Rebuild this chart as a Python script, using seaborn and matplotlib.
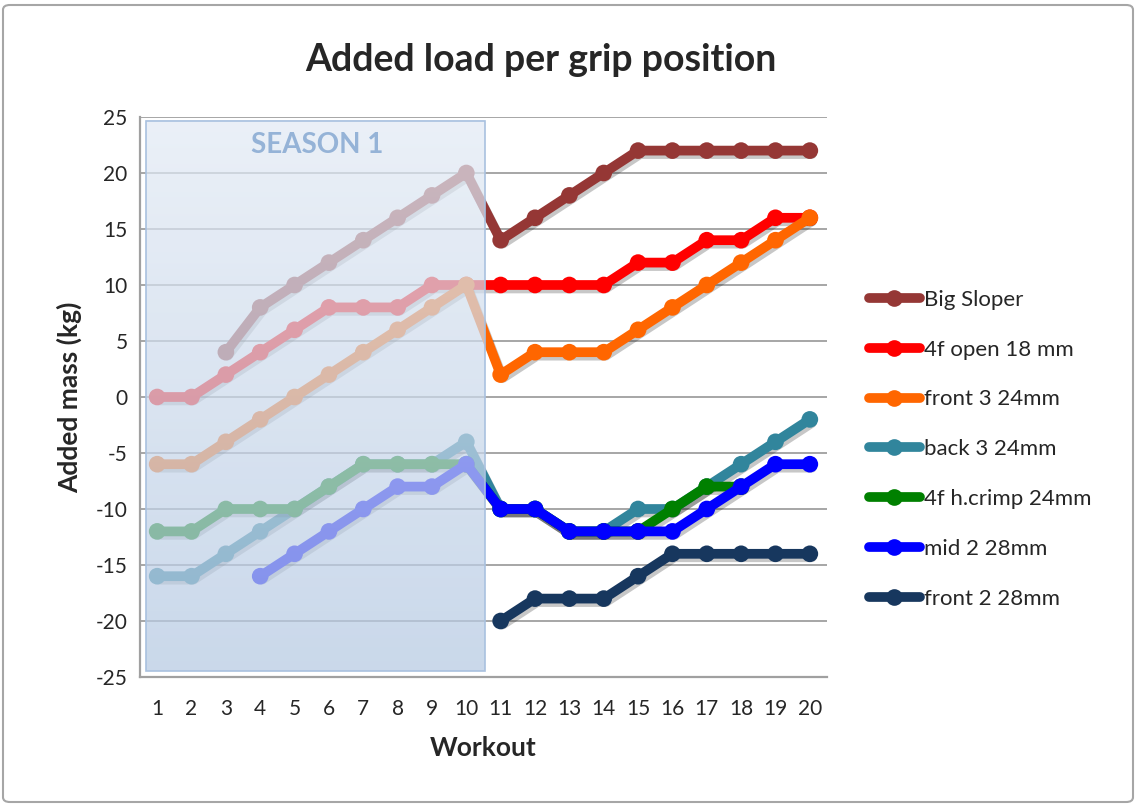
import numpy as np
import pandas as pd
import matplotlib
matplotlib.use("Agg")
import matplotlib.pyplot as plt
import matplotlib.patheffects as pe
from matplotlib.patches import FancyBboxPatch, Rectangle
from matplotlib.lines import Line2D
import seaborn as sns

nan = np.nan
workouts = list(range(1, 21))

# values, NaN where a grip was not trained
big_sloper = [nan, nan, 4, 8, 10, 12, 14, 16, 18, 20, 14, 16, 18, 20, 22, 22, 22, 22, 22, 22]
open_4f_18 = [0, 0, 2, 4, 6, 8, 8, 8, 10, 10, 10, 10, 10, 10, 12, 12, 14, 14, 16, 16]
front3_24 = [-6, -6, -4, -2, 0, 2, 4, 6, 8, 10, 2, 4, 4, 4, 6, 8, 10, 12, 14, 16]
back3_24 = [-16, -16, -14, -12, -10, -8, -6, -6, -6, -4, -10, -10, -12, -12, -10, -10, -8, -6, -4, -2]
hcrimp_4f_24 = [-12, -12, -10, -10, -10, -8, -6, -6, -6, -6, -10, -10, -12, -12, -12, -10, -8, -8, nan, nan]
mid2_28 = [nan, nan, nan, -16, -14, -12, -10, -8, -8, -6, -10, -10, -12, -12, -12, -12, -10, -8, -6, -6]
front2_28 = [nan] * 10 + [-20, -18, -18, -18, -16, -14, -14, -14, -14, -14]

series_names = ["Big Sloper", "4f open 18 mm", "front 3 24mm", "back 3 24mm",
                "4f h.crimp 24mm", "mid 2 28mm", "front 2 28mm"]
series_values = [big_sloper, open_4f_18, front3_24, back3_24, hcrimp_4f_24, mid2_28, front2_28]
colors = ["#953735", "#FF0000", "#FF6600", "#31859C", "#008000", "#0000FF", "#17375E"]

season_label = "SEASON 1"
season_span = (0.67, 10.53)

rows = []
for name, vals in zip(series_names, series_values):
    for w, v in zip(workouts, vals):
        rows.append({"Workout": w, "mass": v, "grip": name})
df = pd.DataFrame(rows).dropna()

sns.set_style("white")
plt.rcParams["font.family"] = ["Lato", "DejaVu Sans"]
plt.rcParams["axes.unicode_minus"] = False

fig = plt.figure(figsize=(11.37, 8.05), dpi=100)
ax = fig.add_axes([140 / 1137, 1 - 677 / 805, 687 / 1137, 560 / 805])

# soft drop shadow like the spreadsheet chart
shadow = [pe.SimpleLineShadow(offset=(1.5, -2.5), alpha=0.22, shadow_color="black"),
          pe.Normal()]

sns.lineplot(data=df, x="Workout", y="mass", hue="grip", hue_order=series_names,
             palette=colors, marker="o", markersize=12, markeredgewidth=0,
             linewidth=7, legend=False, ax=ax, zorder=3)
for ln in ax.lines:
    ln.set_path_effects(shadow)
    ln.set_solid_capstyle("round")

ax.set_xlim(0.5, 20.5)
ax.set_ylim(-25, 25)
ax.set_xticks(workouts)
ax.set_yticks(range(-25, 26, 5))
ax.grid(axis="y", color="#A6A6A6", linewidth=1.4, zorder=0)
ax.set_axisbelow(True)
for s in ["top", "right"]:
    ax.spines[s].set_visible(False)
for s in ["left", "bottom"]:
    ax.spines[s].set_color("#A0A0A0")
    ax.spines[s].set_linewidth(1.6)
ax.tick_params(axis="y", length=6, width=1.4, color="#A0A0A0", pad=3, labelsize=15)
ax.tick_params(axis="x", length=0, pad=16, labelsize=15)

ax.set_xlabel("Workout", fontsize=19, fontweight="bold", labelpad=12)
ax.set_ylabel("Added mass (kg)", fontsize=19, fontweight="bold", labelpad=10)

# season 1 shaded box with vertical gradient, drawn over the early lines
t = np.linspace(0, 1, 256)[:, None, None]
top_c = np.array([0.89, 0.92, 0.96])
bot_c = np.array([0.71, 0.79, 0.89])
img = np.zeros((256, 1, 4))
img[..., :3] = top_c * (1 - t) + bot_c * t
img[..., 3] = 0.72
ax.imshow(img, extent=(season_span[0], season_span[1], -24.5, 24.65), aspect="auto",
          origin="upper", zorder=5, interpolation="bilinear")
ax.add_patch(Rectangle((season_span[0], -24.5), season_span[1] - season_span[0], 49.15,
                       fill=False, edgecolor="#A9C1DF", linewidth=1.2, zorder=6))
ax.text(5.65, 22.5, season_label, color="#95B3D7", fontsize=20, fontweight="bold",
        ha="center", va="center", zorder=7)

fig.suptitle("Added load per grip position", x=541 / 1137, y=1 - 60 / 805, va="center",
             fontsize=27, fontweight="bold")

handles = [Line2D([], [], color=c, linewidth=7, marker="o", markersize=12,
                  markeredgewidth=0, solid_capstyle="round") for c in colors]
fig.legend(handles, series_names, loc="upper left", bbox_to_anchor=(860 / 1137, 1 - 281 / 805),
           frameon=False, fontsize=16, labelspacing=1.34, handlelength=2.3,
           handletextpad=0.2, borderaxespad=0)

fig.patches.append(FancyBboxPatch((3 / 1137, 3 / 805), 1130 / 1137, 797 / 805,
                                  boxstyle="round,pad=0,rounding_size=0.006",
                                  transform=fig.transFigure, fill=False,
                                  edgecolor="#A6A6A6", linewidth=1.5))

fig.savefig("out.png", dpi=100)
